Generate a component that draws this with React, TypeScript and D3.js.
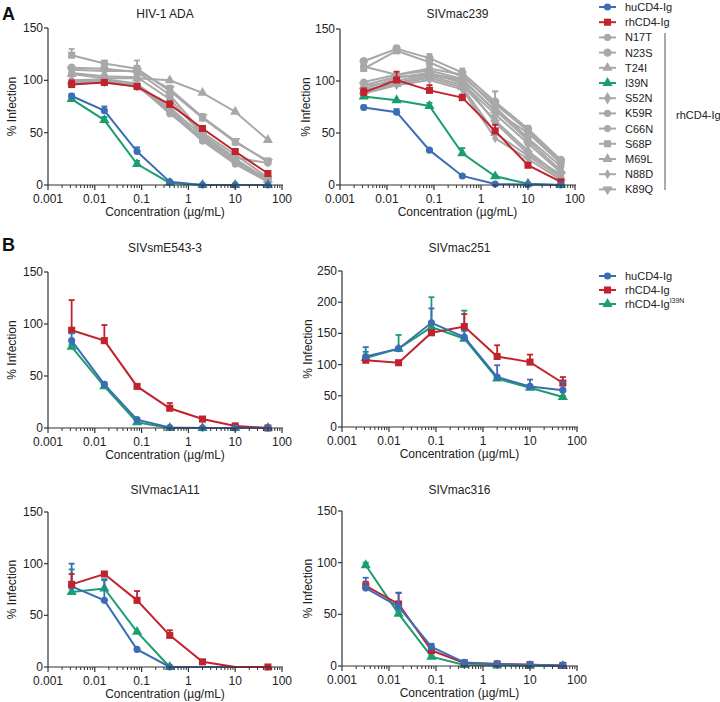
import React from 'react';
import * as d3 from 'd3';

const conc = [0.0032, 0.016, 0.08, 0.4, 2, 10, 50];
const xTickValues = [0.001, 0.01, 0.1, 1, 10, 100];
const xTickLabels = ['0.001', '0.01', '0.1', '1', '10', '100'];
const yTicks150 = [0, 50, 100, 150];
const yTicks250 = [0, 50, 100, 150, 200, 250];

const BLUE = '#3b6db5';
const RED = '#c0232e';
const GREEN = '#1b9e6f';
const GRAY = '#a8a8a8';

// Panel A – HIV-1 ADA
const adaHu = [85, 71, 32, 3, 0, 0, 0];
const adaHuErr = [2, 4, 4, 1, 0, 0, 0];
const adaRh = [96, 98, 94, 77, 54, 32, 11];
const adaRhErr = [4, 2, 2, 3, 2, 2, 2];
const adaI39N = [82, 62, 20, 2, 0, 0, 0];
const adaI39NErr = [1, 3, 3, 0, 0, 0, 0];
const adaN17T = [107, 104, 103, 82, 48, 26, 21];
const adaN23S = [112, 111, 108, 86, 50, 29, 7];
const adaT24I = [106, 102, 102, 100, 88, 70, 43];
const adaS52N = [100, 101, 97, 71, 44, 22, 4];
const adaK59R = [98, 100, 95, 69, 42, 20, 3];
const adaC66N = [96, 99, 96, 68, 45, 23, 6];
const adaS68P = [124, 116, 111, 90, 64, 41, 23];
const adaS68PErr = [6, 3, 8, 4, 3, 2, 1];
const adaM69L = [99, 101, 96, 74, 47, 25, 5];
const adaN88D = [97, 98, 94, 72, 44, 22, 4];
const adaK89Q = [110, 109, 109, 92, 65, 42, 22];
const adaK89QErr = [2, 2, 5, 3, 3, 2, 1];

// Panel A – SIVmac239
const m239Hu = [74.5, 70, 33.5, 8.7, 1, 0.5, 0];
const m239HuErr = [2, 3, 1, 1, 0, 0, 0];
const m239Rh = [89, 101, 91, 84, 52, 19, 3];
const m239RhErr = [4, 8, 5, 3, 6, 2, 1];
const m239I39N = [85, 81.5, 76, 30.5, 8.4, 1.3, 0];
const m239I39NErr = [0, 0, 3, 5, 1, 0, 0];
const m239N17T = [114, 106, 112, 106, 75, 45, 18];
const m239N23S = [119, 131, 122, 108, 80, 54, 24];
const m239N23SErr = [2, 3, 4, 4, 10, 3, 2];
const m239T24I = [95, 100, 107, 101, 72, 43, 14];
const m239S52N = [91, 98, 105, 96, 62, 33, 8];
const m239K59R = [92, 103, 108, 98, 68, 40, 12];
const m239C66N = [99, 106, 110, 102, 71, 50, 21];
const m239S68P = [112, 129, 118, 104, 78, 52, 22];
const m239S68PErr = [5, 4, 5, 5, 12, 4, 3];
const m239M69L = [90, 97, 103, 94, 50, 28, 7];
const m239M69LErr = [0, 0, 0, 0, 8, 0, 0];
const m239N88D = [88, 96, 101, 92, 45, 25, 5];
const m239K89Q = [96, 104, 106, 100, 60, 30, 10];

// Panel B – SIVsmE543-3
const smHu = [84, 42, 8, 0.5, 0, 0, 0];
const smHuErr = [7, 2, 1, 0, 0, 0, 0];
const smRh = [94, 84, 40, 19, 8.6, 2, 0];
const smRhErr = [29, 15, 2, 5, 2, 1, 0];
const smI39N = [78, 40, 5.5, 0, 0, 0, 0];
const smI39NErr = [2, 2, 1, 0, 0, 0, 0];

// Panel B – SIVmac251
const m251Hu = [113, 125.5, 167, 144, 80, 65, 59];
const m251HuErr = [15, 3, 23, 10, 19, 11, 13];
const m251Rh = [107, 103, 151, 161, 113, 104, 70.5];
const m251RhErr = [2, 2, 3, 20, 18, 12, 9.5];
const m251I39N = [110.5, 125.5, 160, 141.5, 77.5, 63, 48];
const m251I39NErr = [10, 22, 48, 45, 2, 2, 2];

// Panel B – SIVmac1A11
const a11Hu = [78, 64.5, 17, 0, 0, 0, 0];
const a11HuErr = [22, 19.5, 0, 0, 0, 0, 0];
const a11HuNoMarker = [4, 5, 6];
const a11Rh = [80, 90, 64.5, 30.6, 5, 0, 0];
const a11RhErr = [10, 1, 9, 5, 1, 0, 0];
const a11RhNoMarker = [5];
const a11I39N = [72.5, 76, 34, 0, null, null, null];
const a11I39NErr = [22, 9, 0, 0, 0, 0, 0];

// Panel B – SIVmac316
const m316Hu = [75.4, 57.5, 18.5, 3.5, 2, 1.3, 0.6];
const m316HuErr = [10, 13, 3, 1, 0.5, 0.5, 0.5];
const m316Rh = [77.6, 60, 15, 3, 2, 1.3, 0.6];
const m316RhErr = [4, 11, 2, 1, 0.5, 0.5, 0.5];
const m316I39N = [97.5, 50.5, 9, 1, 0.5, 0.3, 0];
const m316I39NErr = [2.5, 2, 1, 0, 0, 0, 0];

const legendANames = ['huCD4-Ig', 'rhCD4-Ig', 'N17T', 'N23S', 'T24I', 'I39N', 'S52N', 'K59R', 'C66N', 'S68P', 'M69L', 'N88D', 'K89Q'];
const legendBNames = ['huCD4-Ig', 'rhCD4-Ig', 'rhCD4-Ig'];

type Shape = 'circle' | 'bigcircle' | 'square' | 'triangle' | 'tridown' | 'diamond' | 'smalldiamond';
interface Series { color: string; shape: Shape; values: (number | null)[]; errs?: number[]; noMarker?: number[]; }

const FONT = '"Liberation Sans", Arial, Helvetica, sans-serif';
const TEXT = '#222';
const AXIS = '#333';

function symbolPath(shape: Shape): { d: string; rot: number } {
  const g = d3.symbol();
  switch (shape) {
    case 'circle': return { d: g.type(d3.symbolCircle).size(40)() as string, rot: 0 };
    case 'bigcircle': return { d: g.type(d3.symbolCircle).size(55)() as string, rot: 0 };
    case 'square': return { d: g.type(d3.symbolSquare).size(50)() as string, rot: 0 };
    case 'triangle': return { d: g.type(d3.symbolTriangle).size(45)() as string, rot: 0 };
    case 'tridown': return { d: g.type(d3.symbolTriangle).size(45)() as string, rot: 180 };
    case 'diamond': return { d: g.type(d3.symbolDiamond).size(45)() as string, rot: 0 };
    case 'smalldiamond': return { d: g.type(d3.symbolDiamond).size(30)() as string, rot: 0 };
  }
}

function Marker({ x, y, shape, color }: { x: number; y: number; shape: Shape; color: string }) {
  const s = symbolPath(shape);
  return <path d={s.d} fill={color} transform={`translate(${x},${y}) rotate(${s.rot})`} />;
}

interface PanelProps {
  x0: number; x1: number; yTop: number; yBot: number; yMax: number; yTicks: number[];
  title: string; titleY: number; ylabelX: number; series: Series[];
}

function Panel(p: PanelProps) {
  const x = d3.scaleLog().domain([0.001, 100]).range([p.x0, p.x1]);
  const y = d3.scaleLinear().domain([0, p.yMax]).range([p.yBot, p.yTop]);
  const minor: number[] = [];
  for (let e = -3; e < 2; e++) for (let k = 2; k <= 9; k++) minor.push(k * Math.pow(10, e));
  return (
    <g fontFamily={FONT} fill={TEXT}>
      <text x={(p.x0 + p.x1) / 2} y={p.titleY} textAnchor="middle" dominantBaseline="central" fontSize={12}>{p.title}</text>
      {p.series.map((s, si) => {
        const idx = s.values.map((v, i) => (v == null ? -1 : i)).filter((i) => i >= 0);
        const lg = d3.line<number>().x((i) => x(conc[i])).y((i) => y(s.values[i] as number));
        return (
          <g key={si}>
            {s.errs && idx.map((i) => {
              const e = s.errs![i];
              if (!e) return null;
              const v = s.values[i] as number;
              return (
                <g key={'e' + i} stroke={s.color} strokeWidth={1.8}>
                  <line x1={x(conc[i])} x2={x(conc[i])} y1={y(v)} y2={y(v + e)} />
                  <line x1={x(conc[i]) - 3} x2={x(conc[i]) + 3} y1={y(v + e)} y2={y(v + e)} />
                </g>
              );
            })}
            <path d={lg(idx) as string} fill="none" stroke={s.color} strokeWidth={2} />
            {idx.filter((i) => !(s.noMarker || []).includes(i)).map((i) => (
              <Marker key={i} x={x(conc[i])} y={y(s.values[i] as number)} shape={s.shape} color={s.color} />
            ))}
          </g>
        );
      })}
      <line x1={p.x0} x2={p.x1 + 1} y1={p.yBot} y2={p.yBot} stroke={AXIS} strokeWidth={1.2} />
      <line x1={p.x0} x2={p.x0} y1={p.yTop} y2={p.yBot} stroke={AXIS} strokeWidth={1.2} />
      {minor.map((m, i) => (
        <line key={'m' + i} x1={x(m)} x2={x(m)} y1={p.yBot} y2={p.yBot + 3} stroke={AXIS} strokeWidth={1} />
      ))}
      {xTickValues.map((t, i) => (
        <g key={'x' + i}>
          <line x1={x(t)} x2={x(t)} y1={p.yBot} y2={p.yBot + 5} stroke={AXIS} strokeWidth={1.2} />
          <text x={x(t)} y={p.yBot + 14} textAnchor="middle" dominantBaseline="central" fontSize={12}>{xTickLabels[i]}</text>
        </g>
      ))}
      {p.yTicks.map((t, i) => (
        <g key={'y' + i}>
          <line x1={p.x0 - 4} x2={p.x0} y1={y(t)} y2={y(t)} stroke={AXIS} strokeWidth={1.2} />
          <text x={p.x0 - 5} y={y(t)} textAnchor="end" dominantBaseline="central" fontSize={12}>{t}</text>
        </g>
      ))}
      <text x={(p.x0 + p.x1) / 2} y={p.yBot + 27} textAnchor="middle" dominantBaseline="central" fontSize={12}>Concentration (µg/mL)</text>
      <text transform={`translate(${p.ylabelX},${(p.yTop + p.yBot) / 2}) rotate(-90)`} textAnchor="middle" dominantBaseline="central" fontSize={12}>% Infection</text>
    </g>
  );
}

function grayA(vals: number[][], errs: (number[] | undefined)[]): Series[] {
  const shapes: Shape[] = ['circle', 'bigcircle', 'triangle', 'diamond', 'circle', 'circle', 'square', 'triangle', 'smalldiamond', 'tridown'];
  return vals.map((v, i) => ({ color: GRAY, shape: shapes[i], values: v, errs: errs[i] }));
}

export default function App() {
  const adaSeries: Series[] = [
    ...grayA([adaN17T, adaN23S, adaT24I, adaS52N, adaK59R, adaC66N, adaS68P, adaM69L, adaN88D, adaK89Q],
      [undefined, undefined, undefined, undefined, undefined, undefined, adaS68PErr, undefined, undefined, adaK89QErr]),
    { color: GREEN, shape: 'triangle', values: adaI39N, errs: adaI39NErr },
    { color: RED, shape: 'square', values: adaRh, errs: adaRhErr },
    { color: BLUE, shape: 'circle', values: adaHu, errs: adaHuErr },
  ];
  const m239Series: Series[] = [
    ...grayA([m239N17T, m239N23S, m239T24I, m239S52N, m239K59R, m239C66N, m239S68P, m239M69L, m239N88D, m239K89Q],
      [undefined, m239N23SErr, undefined, undefined, undefined, undefined, m239S68PErr, m239M69LErr, undefined, undefined]),
    { color: GREEN, shape: 'triangle', values: m239I39N, errs: m239I39NErr },
    { color: RED, shape: 'square', values: m239Rh, errs: m239RhErr },
    { color: BLUE, shape: 'circle', values: m239Hu, errs: m239HuErr },
  ];
  const mk = (hu: (number | null)[], huE: number[], rh: (number | null)[], rhE: number[], g: (number | null)[], gE: number[], huNo?: number[], rhNo?: number[]): Series[] => [
    { color: GREEN, shape: 'triangle', values: g, errs: gE },
    { color: BLUE, shape: 'circle', values: hu, errs: huE, noMarker: huNo },
    { color: RED, shape: 'square', values: rh, errs: rhE, noMarker: rhNo },
  ];
  const mkTopBlue = (hu: (number | null)[], huE: number[], rh: (number | null)[], rhE: number[], g: (number | null)[], gE: number[]): Series[] => [
    { color: GREEN, shape: 'triangle', values: g, errs: gE },
    { color: RED, shape: 'square', values: rh, errs: rhE },
    { color: BLUE, shape: 'circle', values: hu, errs: huE },
  ];
  const legendAShapes: Shape[] = ['circle', 'square', 'circle', 'bigcircle', 'triangle', 'triangle', 'diamond', 'circle', 'circle', 'square', 'triangle', 'smalldiamond', 'tridown'];
  const legendAColors = [BLUE, RED, GRAY, GRAY, GRAY, GREEN, GRAY, GRAY, GRAY, GRAY, GRAY, GRAY, GRAY];
  const legendBShapes: Shape[] = ['circle', 'square', 'triangle'];
  const legendBColors = [BLUE, RED, GREEN];

  return (
    <svg width={720} height={702} style={{ position: 'absolute', left: 0, top: 0, background: '#fff' }}>
      <rect width={720} height={702} fill="#fff" />
      <text x={2} y={14} fontFamily={FONT} fontWeight="bold" fontSize={18} dominantBaseline="central" fill="#111">A</text>
      <text x={2} y={245} fontFamily={FONT} fontWeight="bold" fontSize={18} dominantBaseline="central" fill="#111">B</text>

      <Panel x0={48} x1={282} yTop={28} yBot={185} yMax={150} yTicks={yTicks150} title="HIV-1 ADA" titleY={14} ylabelX={12} series={adaSeries} />
      <Panel x0={340} x1={575} yTop={29} yBot={185} yMax={150} yTicks={yTicks150} title="SIVmac239" titleY={14} ylabelX={306} series={m239Series} />
      <Panel x0={48} x1={282} yTop={272} yBot={428} yMax={150} yTicks={yTicks150} title="SIVsmE543-3" titleY={248} ylabelX={12} series={mkTopBlue(smHu, smHuErr, smRh, smRhErr, smI39N, smI39NErr)} />
      <Panel x0={342} x1={577} yTop={271} yBot={427} yMax={250} yTicks={yTicks250} title="SIVmac251" titleY={248} ylabelX={308} series={mkTopBlue(m251Hu, m251HuErr, m251Rh, m251RhErr, m251I39N, m251I39NErr)} />
      <Panel x0={48} x1={282} yTop={512} yBot={667} yMax={150} yTicks={yTicks150} title="SIVmac1A11" titleY={490} ylabelX={12} series={mk(a11Hu, a11HuErr, a11Rh, a11RhErr, a11I39N, a11I39NErr, a11HuNoMarker, a11RhNoMarker)} />
      <Panel x0={342} x1={577} yTop={511} yBot={666} yMax={150} yTicks={yTicks150} title="SIVmac316" titleY={490} ylabelX={308} series={mkTopBlue(m316Hu, m316HuErr, m316Rh, m316RhErr, m316I39N, m316I39NErr)} />

      <g fontFamily={FONT} fontSize={11} fill={TEXT}>
        {legendANames.map((n, i) => {
          const yy = 7 + i * 15.2;
          return (
            <g key={n}>
              <line x1={599} x2={616} y1={yy} y2={yy} stroke={legendAColors[i]} strokeWidth={2} />
              <Marker x={607.5} y={yy} shape={legendAShapes[i]} color={legendAColors[i]} />
              <text x={625} y={yy} dominantBaseline="central">{n}</text>
            </g>
          );
        })}
        <line x1={665} x2={665} y1={33} y2={190} stroke="#555" strokeWidth={1} />
        <text x={676} y={115} dominantBaseline="central">rhCD4-Ig</text>
      </g>

      <g fontFamily={FONT} fontSize={11} fill={TEXT}>
        {legendBNames.map((n, i) => {
          const yy = 276 + i * 14;
          return (
            <g key={i}>
              <line x1={599} x2={616} y1={yy} y2={yy} stroke={legendBColors[i]} strokeWidth={2} />
              <Marker x={607.5} y={yy} shape={legendBShapes[i]} color={legendBColors[i]} />
              <text x={625} y={yy} dominantBaseline="central">
                {n}
                {i === 2 && <tspan fontSize={7} dy={-4}>I39N</tspan>}
              </text>
            </g>
          );
        })}
      </g>
    </svg>
  );
}
